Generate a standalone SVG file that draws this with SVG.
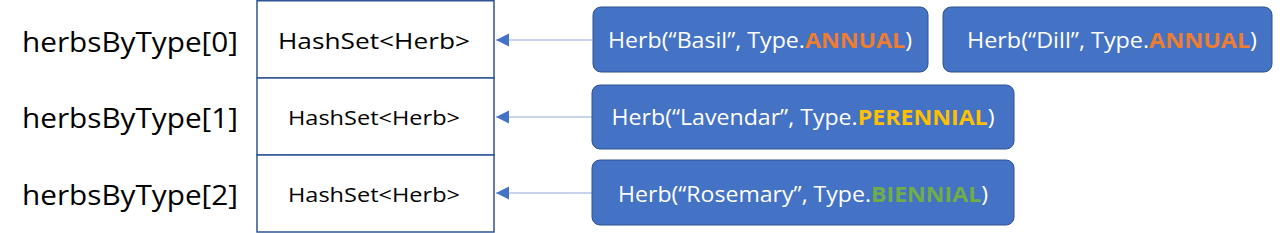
<svg xmlns="http://www.w3.org/2000/svg" width="1280" height="233" viewBox="0 0 1280 233">
<style>
.lbl{font-family:"Open Sans","Noto Sans","Liberation Sans",sans-serif;font-size:27px;fill:#000}
.hs{font-family:"Open Sans","Noto Sans","Liberation Sans",sans-serif;fill:#000;text-anchor:middle}
.cell{fill:#fff;stroke:#2F5597;stroke-width:1.5}
.herb{fill:#4472C4;stroke:#2F528F;stroke-width:1}
.ht{font-family:"Open Sans","Noto Sans","Liberation Sans",sans-serif;font-size:22px;fill:#fff;text-anchor:middle}
.b{font-weight:bold}
.conn{stroke:#8FAADC;stroke-width:1.2;fill:none}
</style>
<defs>
<marker id="ah" markerWidth="14" markerHeight="16" refX="13" refY="8" orient="auto" markerUnits="userSpaceOnUse" overflow="visible">
<path d="M0,1.5 L13,8 L0,14.5 z" fill="#4472C4"/>
</marker>
</defs>
<g id="labels">
<text class="lbl" x="22" y="52" textLength="216" lengthAdjust="spacingAndGlyphs">herbsByType[0]</text>
<text class="lbl" x="22" y="128" textLength="216" lengthAdjust="spacingAndGlyphs">herbsByType[1]</text>
<text class="lbl" x="22" y="205" textLength="216" lengthAdjust="spacingAndGlyphs">herbsByType[2]</text>
</g>
<g id="cell0">
<rect class="cell" x="257" y="0.75" width="237" height="77.25"/>
<text class="hs" x="374" y="49" font-size="21" textLength="192" lengthAdjust="spacingAndGlyphs">HashSet&lt;Herb&gt;</text>
</g>
<g id="cell1">
<rect class="cell" x="257" y="78" width="237" height="77"/>
<text class="hs" x="374" y="125" font-size="20" textLength="172" lengthAdjust="spacingAndGlyphs">HashSet&lt;Herb&gt;</text>
</g>
<g id="cell2">
<rect class="cell" x="257" y="155" width="237" height="77"/>
<text class="hs" x="374" y="202" font-size="20" textLength="172" lengthAdjust="spacingAndGlyphs">HashSet&lt;Herb&gt;</text>
</g>
<g id="connectors">
<line class="conn" x1="592" y1="40" x2="496" y2="40" marker-end="url(#ah)"/>
<line class="conn" x1="592" y1="117" x2="496" y2="117" marker-end="url(#ah)"/>
<line class="conn" x1="592" y1="193" x2="496" y2="193" marker-end="url(#ah)"/>
</g>
<g id="basil">
<rect class="herb" x="593" y="7" width="335" height="65" rx="8"/>
<text class="ht" x="760" y="48" textLength="304" lengthAdjust="spacingAndGlyphs">Herb(“Basil”, Type.<tspan class="b" fill="#ED7D31">ANNUAL</tspan>)</text>
</g>
<g id="dill">
<rect class="herb" x="943" y="7" width="329" height="65" rx="8"/>
<text class="ht" x="1112" y="48" textLength="290" lengthAdjust="spacingAndGlyphs">Herb(“Dill”, Type.<tspan class="b" fill="#ED7D31">ANNUAL</tspan>)</text>
</g>
<g id="lavendar">
<rect class="herb" x="592" y="85" width="422" height="64" rx="8"/>
<text class="ht" x="803" y="125" textLength="383" lengthAdjust="spacingAndGlyphs">Herb(“Lavendar”, Type.<tspan class="b" fill="#FFC000">PERENNIAL</tspan>)</text>
</g>
<g id="rosemary">
<rect class="herb" x="592" y="160" width="422" height="65" rx="8"/>
<text class="ht" x="803" y="202" textLength="370" lengthAdjust="spacingAndGlyphs">Herb(“Rosemary”, Type.<tspan class="b" fill="#70AD47">BIENNIAL</tspan>)</text>
</g>
</svg>
